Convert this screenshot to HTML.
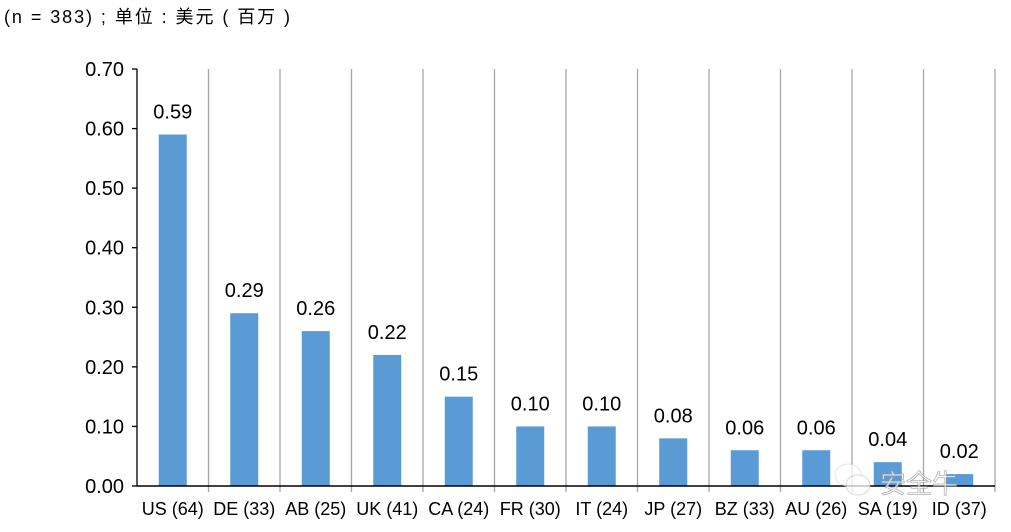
<!DOCTYPE html>
<html><head><meta charset="utf-8"><style>
html,body{margin:0;padding:0;background:#fff;width:1011px;height:532px;overflow:hidden}
svg text{font-family:"Liberation Sans","Noto Sans CJK SC",sans-serif;fill:#000}
</style></head><body>
<svg width="1011" height="532">
<text x="4" y="23" font-size="18" textLength="286" lengthAdjust="spacing">(n = 383) ; 单位 : 美元 ( 百万 )</text>
<g id="plot"></g>
<g opacity="0.75">
<ellipse cx="848" cy="475" rx="13" ry="11" fill="#fff" stroke="#ddd"/>
<ellipse cx="858" cy="485" rx="12" ry="10" fill="#fff" stroke="#ccc"/>
<text x="880" y="493" font-size="26" style="fill:#fff;stroke:#999;stroke-width:0.8">安全牛</text>
</g>
</svg>
<script>
const categories=["US (64)","DE (33)","AB (25)","UK (41)","CA (24)","FR (30)","IT (24)","JP (27)","BZ (33)","AU (26)","SA (19)","ID (37)"];
const values=[0.59,0.29,0.26,0.22,0.15,0.10,0.10,0.08,0.06,0.06,0.04,0.02];
const labels=["0.59","0.29","0.26","0.22","0.15","0.10","0.10","0.08","0.06","0.06","0.04","0.02"];
const ticks=[0,0.1,0.2,0.3,0.4,0.5,0.6,0.7];
const tickLabels=["0.00","0.10","0.20","0.30","0.40","0.50","0.60","0.70"];
const NS="http://www.w3.org/2000/svg";
const g=document.getElementById('plot');
const x0=137,x1=995,y0=486,yTop=69,maxV=0.7;
const bw=(x1-x0)/categories.length;
const yS=v=>y0-(v/maxV)*(y0-yTop);
const xS=i=>x0+i*bw;
function mk(t,a){const e=document.createElementNS(NS,t);for(const k in a)e.setAttribute(k,a[k]);g.appendChild(e);return e;}
for(let i=1;i<=categories.length;i++){
 const l=mk('line',{x1:xS(i),x2:xS(i),y1:yTop,y2:y0+6,stroke:'#a6a6a6','stroke-width':1.3});
 
 
}
const ya=mk('line',{x1:x0,x2:x0,y1:yTop,y2:y0,stroke:'#000','stroke-width':1.3});


ticks.forEach((t,i)=>{
 mk('line',{x1:x0-5,x2:x0,y1:yS(t),y2:yS(t),stroke:'#000','stroke-width':1.3});
 const tx=mk('text',{x:x0-13,y:yS(t)+7,'font-size':20,'text-anchor':'end'});
 tx.textContent=tickLabels[i];
 
 
});
values.forEach((v,i)=>{
 const cx=xS(i)+bw/2;
 const r=mk('rect',{x:cx-14,y:yS(v),width:28,height:y0-yS(v),fill:'#5b9bd5'});
 
 
 const t=mk('text',{x:cx,y:yS(v)-16,'font-size':20,'text-anchor':'middle'});
 t.textContent=labels[i];
 
 
 const c=mk('text',{x:cx,y:y0+29,'font-size':18,'text-anchor':'middle'});
 c.textContent=categories[i];
 
 
});
const xa=mk('line',{x1:x0,x2:x1,y1:y0,y2:y0,stroke:'#000','stroke-width':1.5});


</script>
</body></html>
